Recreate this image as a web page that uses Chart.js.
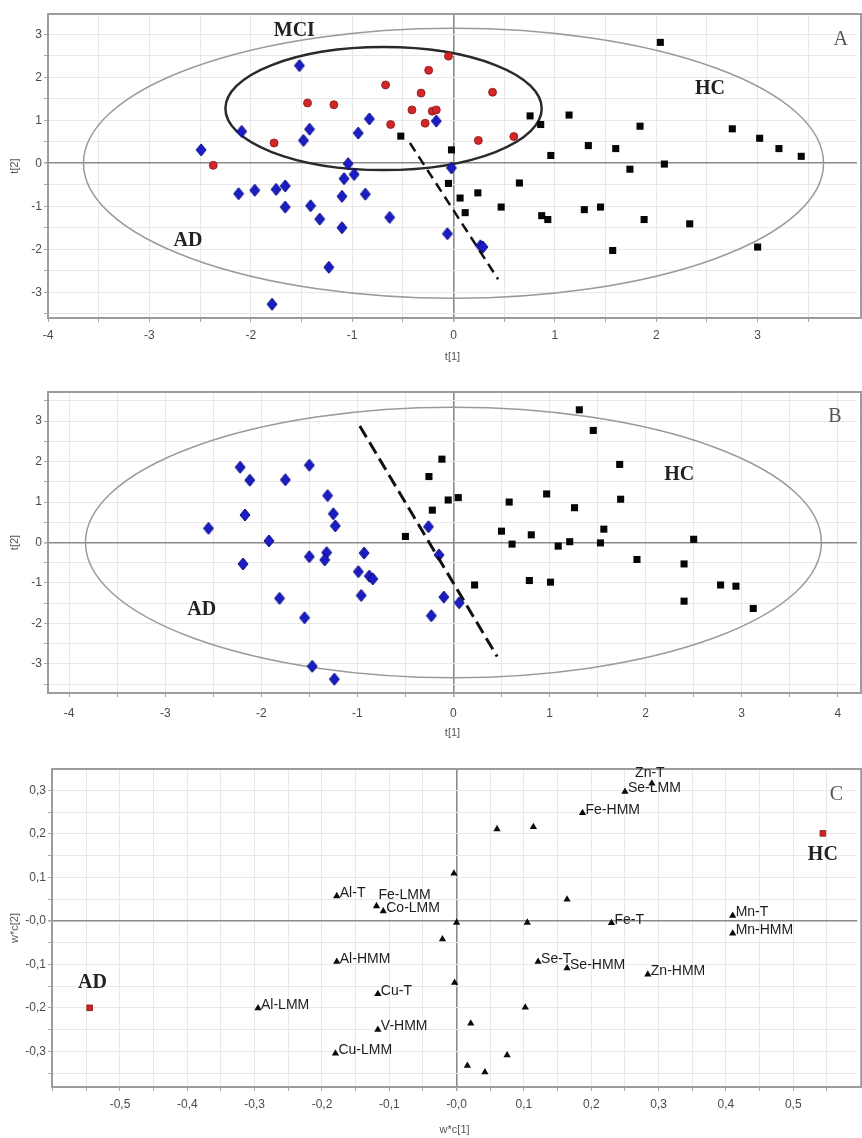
<!DOCTYPE html>
<html>
<head>
<meta charset="utf-8">
<script src="https://cdn.jsdelivr.net/npm/chart.js@4.4.1/dist/chart.umd.min.js"></script>
<style>
html, body { margin: 0; padding: 0; background: #fff; }
#wrap { position: relative; width: 862px; height: 1138px; overflow: hidden; }
#wrap canvas { position: absolute; left: 0; }
</style>
</head>
<body>
<div id="wrap">
  <canvas id="chartA" width="862" height="370" style="top:0px"></canvas>
  <canvas id="chartB" width="862" height="380" style="top:370px"></canvas>
  <canvas id="chartC" width="862" height="388" style="top:750px"></canvas>
</div>
<script>
// ---- panel A: scores t[1] / t[2], AD vs MCI vs HC
const aAdX = [-1.52, -0.83, -0.17, -1.42, -2.09, -0.94, -1.48, -2.49, -1.04, -0.02, -0.98, -1.08, -1.66, -1.75, -1.96, -2.12, -1.10, -0.87, -1.66, -1.41, -1.32, -0.63, -1.10, -0.06, -1.23, -1.79, 0.265, 0.29];
const aAdY = [2.27, 1.03, 0.98, 0.79, 0.74, 0.70, 0.53, 0.31, -0.01, -0.11, -0.26, -0.36, -0.53, -0.61, -0.63, -0.71, -0.77, -0.72, -1.02, -0.99, -1.30, -1.26, -1.50, -1.64, -2.42, -3.28, -1.92, -1.95];
const aMciX = [-0.05, -0.245, -0.67, -0.32, -1.44, -1.18, -0.41, -0.21, -0.17, -0.62, -0.28, -1.77, -2.37, 0.385, 0.245, 0.595];
const aMciY = [2.49, 2.16, 1.82, 1.63, 1.40, 1.36, 1.24, 1.21, 1.24, 0.90, 0.93, 0.47, -0.05, 1.65, 0.53, 0.62];
const aHcX = [2.04, 0.755, 1.14, 0.86, 1.84, 2.75, 3.02, 1.33, 1.60, 3.21, -0.02, 3.43, 0.96, 2.08, 1.74, -0.05, 0.65, 0.24, 0.065, 0.47, 1.29, 1.45, 0.115, 0.87, 0.93, 1.88, 2.33, 1.57, 3.00, -0.52];
const aHcY = [2.81, 1.10, 1.12, 0.90, 0.86, 0.80, 0.58, 0.41, 0.34, 0.34, 0.31, 0.16, 0.18, -0.02, -0.14, -0.47, -0.46, -0.69, -0.81, -1.02, -1.08, -1.02, -1.15, -1.22, -1.31, -1.31, -1.41, -2.03, -1.95, 0.63];
const aSplitX = [-0.43, 0.44];
const aSplitY = [0.47, -2.70];
const aXTickLabels = [-4, -3, -2, -1, 0, 1, 2, 3];
const aYTickLabels = [-3, -2, -1, 0, 1, 2, 3];

// ---- panel B: scores t[1] / t[2], AD vs HC
const bAdX = [-2.22, -1.50, -2.12, -1.75, -1.31, -2.17, -1.25, -1.23, -2.55, -0.26, -1.92, -0.93, -1.32, -1.34, -1.50, -0.15, -2.19, -0.99, -0.876, -0.84, -0.96, -1.81, -0.10, 0.06, -1.55, -0.23, -1.47, -1.24];
const bAdY = [1.86, 1.91, 1.54, 1.55, 1.16, 0.68, 0.71, 0.41, 0.35, 0.39, 0.04, -0.26, -0.25, -0.43, -0.35, -0.31, -0.53, -0.72, -0.83, -0.90, -1.31, -1.38, -1.35, -1.49, -1.86, -1.81, -3.06, -3.38];
const bHcX = [1.31, 1.455, -0.12, -0.255, 1.73, -0.055, 0.05, 0.58, 0.97, 1.74, 1.26, -0.22, 1.565, 0.50, 0.81, 0.61, 1.09, 1.21, 1.53, 2.50, 1.91, 2.40, 0.22, 0.79, 1.01, 2.78, 2.94, 2.40, 3.12, -0.50];
const bHcY = [3.28, 2.77, 2.06, 1.63, 1.93, 1.05, 1.11, 1.00, 1.20, 1.07, 0.86, 0.80, 0.33, 0.28, 0.19, -0.04, -0.09, 0.02, -0.01, 0.08, -0.42, -0.53, -1.05, -0.94, -0.98, -1.05, -1.08, -1.45, -1.63, 0.15];
const bSplitX = [-0.975, 0.455];
const bSplitY = [2.88, -2.82];
const bXTickLabels = [-4, -3, -2, -1, 0, 1, 2, 3, 4];
const bYTickLabels = [-3, -2, -1, 0, 1, 2, 3];

// ---- panel C: loadings w*c[1] / w*c[2]
const cVarNames = ['Zn-T', 'Se-LMM', 'Fe-HMM', '', '', '', 'Al-T', 'Fe-LMM', 'Co-LMM', '', '', '', 'Fe-T', 'Mn-T', 'Mn-HMM', '', 'Al-HMM', 'Se-T', 'Se-HMM', 'Zn-HMM', '', 'Cu-T', 'Al-LMM', '', '', 'V-HMM', 'Cu-LMM', '', '', ''];
const cVarX = [0.290, 0.250, 0.187, 0.060, 0.114, -0.004, -0.178, -0.119, -0.109, 0.164, 0.000, 0.105, 0.230, 0.410, 0.410, -0.021, -0.178, 0.121, 0.164, 0.284, -0.003, -0.117, -0.295, 0.102, 0.021, -0.117, -0.180, 0.075, 0.016, 0.042];
const cVarY = [0.316, 0.297, 0.248, 0.211, 0.216, 0.109, 0.057, 0.034, 0.022, 0.049, -0.004, -0.004, -0.005, 0.012, -0.029, -0.042, -0.094, -0.094, -0.109, -0.123, -0.142, -0.168, -0.201, -0.199, -0.236, -0.250, -0.305, -0.309, -0.333, -0.348];
const cClassX = [-0.545, 0.544];
const cClassY = [-0.200, 0.201];
const cXTickLabels = [-0.5, -0.4, -0.3, -0.2, -0.1, 0, 0.1, 0.2, 0.3, 0.4, 0.5];
const cYTickLabels = [-0.3, -0.2, -0.1, 0, 0.1, 0.2, 0.3];

const pts = (xs, ys) => xs.map((x, i) => ({ x: x, y: ys[i] }));

const SANS = '"Liberation Sans", Arial, sans-serif';
const SERIF = '"Liberation Serif", "Times New Roman", serif';

function diamond(w, h, fill, stroke) {
  const c = document.createElement('canvas');
  c.width = w + 2; c.height = h + 2;
  const g = c.getContext('2d');
  g.beginPath();
  g.moveTo(c.width / 2, 1);
  g.lineTo(w + 1, c.height / 2);
  g.lineTo(c.width / 2, h + 1);
  g.lineTo(1, c.height / 2);
  g.closePath();
  g.fillStyle = fill; g.fill();
  g.strokeStyle = stroke; g.lineWidth = 1; g.stroke();
  return c;
}
const blueDiamond = diamond(10, 12, '#1a1cc4', '#0b0b86');

// draws ellipses, frame, free text and point names
const decor = {
  id: 'decor',
  beforeDatasetsDraw(chart, args, opts) {
    const { ctx, chartArea: a, scales: { x, y } } = chart;
    ctx.save();
    ctx.beginPath(); ctx.rect(a.left, a.top, a.width, a.height); ctx.clip();
    (opts.ellipses || []).forEach(e => {
      const cx = x.getPixelForValue(e.cx), cy = y.getPixelForValue(e.cy);
      const rx = Math.abs(x.getPixelForValue(e.cx + e.rx) - cx);
      const ry = Math.abs(y.getPixelForValue(e.cy + e.ry) - cy);
      ctx.beginPath();
      ctx.ellipse(cx, cy, rx, ry, 0, 0, Math.PI * 2);
      ctx.strokeStyle = e.color; ctx.lineWidth = e.width;
      ctx.stroke();
    });
    ctx.restore();
  },
  afterDatasetsDraw(chart, args, opts) {
    const { ctx, chartArea: a, scales: { x, y } } = chart;
    ctx.save();
    // frame
    ctx.strokeStyle = '#9c9c9c';
    ctx.lineWidth = 2;
    ctx.strokeRect(a.left, a.top, a.width + 4, a.height);
    // point names
    chart.data.datasets.forEach((ds, i) => {
      if (!ds.pointNames) return;
      const meta = chart.getDatasetMeta(i);
      ctx.font = '14px ' + SANS;
      ctx.fillStyle = '#1c1c1c';
      ctx.textBaseline = 'middle';
      meta.data.forEach((p, j) => {
        const name = ds.pointNames[j];
        if (!name) return;
        const place = (opts.namePlace || {})[name];
        if (place === 'above') {
          ctx.textAlign = 'center';
          ctx.fillText(name, p.x - 2, p.y - 10);
        } else if (place === 'aboveRight') {
          ctx.textAlign = 'left';
          ctx.fillText(name, p.x + 2, p.y - 11);
        } else {
          ctx.textAlign = 'left';
          ctx.fillText(name, p.x + 3, p.y - 3);
        }
      });
    });
    // free text
    (opts.texts || []).forEach(t => {
      ctx.font = t.font;
      ctx.fillStyle = t.color;
      ctx.textAlign = 'center';
      ctx.textBaseline = 'middle';
      ctx.fillText(t.text, x.getPixelForValue(t.x), y.getPixelForValue(t.y));
    });
    ctx.restore();
  }
};

function makeTicks(step) {
  return function (scale) {
    const out = [];
    const k0 = Math.ceil(scale.min / step - 1e-9), k1 = Math.floor(scale.max / step + 1e-9);
    for (let k = k0; k <= k1; k++) out.push({ value: Math.round(k * step * 1e6) / 1e6 });
    scale.ticks = out;
  };
}

function labelFn(list, fmt) {
  return function (v) {
    return list.some(t => Math.abs(t - v) < 1e-6) ? fmt(v) : '';
  };
}

const intFmt = v => String(Math.round(v));
const commaFmt = v => (v <= 0 ? '-' : '') + Math.abs(v).toFixed(1).replace('.', ',');

function gridOpts() {
  return {
    color: c => (c.tick && Math.abs(c.tick.value) < 1e-9) ? '#8a8a8a' : '#e8e8e8',
    lineWidth: c => (c.tick && Math.abs(c.tick.value) < 1e-9) ? 1.6 : 1,
    tickColor: '#a8a8a8',
    tickLength: 4
  };
}

function makeChart(id, p) {
  return new Chart(document.getElementById(id), {
    type: 'scatter',
    data: { datasets: p.datasets },
    options: {
      responsive: false,
      animation: false,
      devicePixelRatio: 1,
      events: [],
      layout: { padding: { top: p.top, left: 0, right: 0, bottom: 0 } },
      plugins: { legend: { display: false }, tooltip: { enabled: false }, decor: p.decor },
      scales: {
        x: {
          type: 'linear', min: p.xMin, max: p.xMax,
          afterBuildTicks: makeTicks(p.xStep),
          afterFit: s => { s.height = p.xAxisH; },
          grid: gridOpts(),
          border: { display: false },
          ticks: { callback: labelFn(p.xLabels, p.fmt), color: '#4a4a4a', font: { family: SANS, size: 12 }, padding: p.xPad, maxRotation: 0, autoSkip: false },
          title: { display: true, text: p.xTitle, color: '#555', font: { family: SANS, size: 11 }, padding: { top: 0, bottom: p.xTitlePad } }
        },
        y: {
          type: 'linear', min: p.yMin, max: p.yMax,
          afterBuildTicks: makeTicks(p.yStep),
          afterFit: s => { s.width = p.yAxisW; },
          grid: gridOpts(),
          border: { display: false },
          ticks: { callback: labelFn(p.yLabels, p.fmt), color: '#4a4a4a', font: { family: SANS, size: 12 }, padding: 2, autoSkip: false },
          title: { display: true, text: p.yTitle, color: '#555', font: { family: SANS, size: 11 }, padding: 8 }
        }
      }
    },
    plugins: [decor]
  });
}

const boldLabel = 'bold 20px ' + SERIF;
const panelLetter = '20px ' + SERIF;

makeChart('chartA', {
  top: 14, xAxisH: 52, yAxisW: 48, xPad: 6, xTitlePad: 6,
  xMin: -4, xMax: 3.98, yMin: -3.6, yMax: 3.47, xStep: 0.5, yStep: 0.5,
  xLabels: aXTickLabels, yLabels: aYTickLabels, fmt: intFmt,
  xTitle: 't[1]', yTitle: 't[2]',
  datasets: [
    { data: pts(aSplitX, aSplitY), showLine: true, pointRadius: 0, borderColor: '#111', borderWidth: 2.5, borderDash: [10, 6] },
    { data: pts(aHcX, aHcY), pointStyle: 'rect', pointRadius: 5, backgroundColor: '#050505', borderColor: '#050505', borderWidth: 0 },
    { data: pts(aMciX, aMciY), pointStyle: 'circle', pointRadius: 4, backgroundColor: '#d1272b', borderColor: '#8c1414', borderWidth: 0.8 },
    { data: pts(aAdX, aAdY), pointStyle: blueDiamond }
  ],
  decor: {
    ellipses: [
      { cx: 0, cy: 0, rx: 3.65, ry: 3.14, color: '#9a9a9a', width: 1.5 },
      { cx: -0.69, cy: 1.27, rx: 1.56, ry: 1.43, color: '#2a2a2a', width: 2.5 }
    ],
    texts: [
      { text: 'MCI', x: -1.57, y: 3.09, font: boldLabel, color: '#222' },
      { text: 'HC', x: 2.53, y: 1.74, font: boldLabel, color: '#222' },
      { text: 'AD', x: -2.62, y: -1.81, font: boldLabel, color: '#222' },
      { text: 'A', x: 3.82, y: 2.86, font: panelLetter, color: '#555' }
    ]
  }
});

makeChart('chartB', {
  top: 22, xAxisH: 57, yAxisW: 48, xPad: 9, xTitlePad: 10,
  xMin: -4.22, xMax: 4.2, yMin: -3.72, yMax: 3.72, xStep: 0.5, yStep: 0.5,
  xLabels: bXTickLabels, yLabels: bYTickLabels, fmt: intFmt,
  xTitle: 't[1]', yTitle: 't[2]',
  datasets: [
    { data: pts(bSplitX, bSplitY), showLine: true, pointRadius: 0, borderColor: '#111', borderWidth: 3, borderDash: [13, 6] },
    { data: pts(bHcX, bHcY), pointStyle: 'rect', pointRadius: 5, backgroundColor: '#050505', borderColor: '#050505', borderWidth: 0 },
    { data: pts(bAdX, bAdY), pointStyle: blueDiamond }
  ],
  decor: {
    ellipses: [
      { cx: 0, cy: 0, rx: 3.83, ry: 3.34, color: '#9a9a9a', width: 1.5 }
    ],
    texts: [
      { text: 'HC', x: 2.35, y: 1.67, font: boldLabel, color: '#222' },
      { text: 'AD', x: -2.62, y: -1.67, font: boldLabel, color: '#222' },
      { text: 'B', x: 3.97, y: 3.10, font: panelLetter, color: '#555' }
    ]
  }
});

makeChart('chartC', {
  top: 19, xAxisH: 51, yAxisW: 52, xPad: 6, xTitlePad: 1,
  xMin: -0.601, xMax: 0.595, yMin: -0.382, yMax: 0.349, xStep: 0.05, yStep: 0.05,
  xLabels: cXTickLabels, yLabels: cYTickLabels, fmt: commaFmt,
  xTitle: 'w*c[1]', yTitle: 'w*c[2]',
  datasets: [
    { data: pts(cVarX, cVarY), pointNames: cVarNames, pointStyle: 'triangle', pointRadius: 4.2, backgroundColor: '#0a0a0a', borderColor: '#0a0a0a', borderWidth: 0 },
    { data: pts(cClassX, cClassY), pointStyle: 'rect', pointRadius: 4, backgroundColor: '#d42020', borderColor: '#7a1a1a', borderWidth: 0.8 }
  ],
  decor: {
    namePlace: { 'Zn-T': 'above', 'Fe-LMM': 'aboveRight' },
    texts: [
      { text: 'AD', x: -0.541, y: -0.143, font: boldLabel, color: '#222' },
      { text: 'HC', x: 0.544, y: 0.151, font: boldLabel, color: '#222' },
      { text: 'C', x: 0.564, y: 0.289, font: panelLetter, color: '#555' }
    ]
  }
});
</script>
</body>
</html>
